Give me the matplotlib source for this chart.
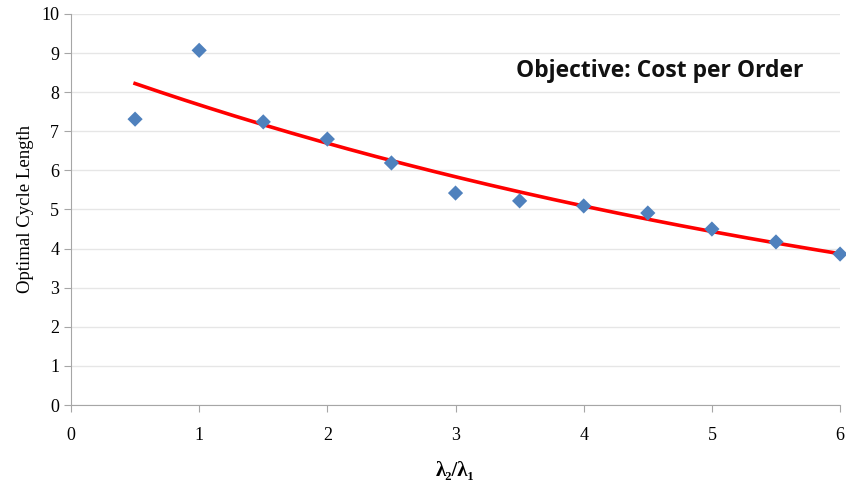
import numpy as np
import matplotlib

matplotlib.use("Agg")
import matplotlib.pyplot as plt  # noqa: E402

# ratio lambda2/lambda1 and optimal cycle length
ratio = [0.5, 1.0, 1.5, 2.0, 2.5, 3.0, 3.5, 4.0, 4.5, 5.0, 5.5, 6.0]
cycle_len = [7.31, 9.07, 7.24, 6.80, 6.19, 5.42, 5.22, 5.09, 4.91, 4.50, 4.17, 3.86]

x_ticks = [0, 1, 2, 3, 4, 5, 6]
y_ticks = list(range(0, 11))

SERIF = ["Liberation Serif", "DejaVu Serif"]


def main():
    fig = plt.figure(figsize=(8.46, 4.95), dpi=100)
    ax = fig.add_axes([0.0839, 0.1818, 0.9091, 0.79])

    x = np.array(ratio)
    y = np.array(cycle_len)
    # exponential trendline, like the spreadsheet one
    b, ln_a = np.polyfit(x, np.log(y), 1)
    xs = np.linspace(x.min(), x.max(), 200)
    ax.plot(xs, np.exp(ln_a) * np.exp(b * xs), color="#ff0000", lw=2.6, zorder=2)

    ax.scatter(x, y, marker="D", s=60, color="#4f81bd", edgecolors="none", zorder=3, clip_on=False)

    ax.set_xlim(0, 6)
    ax.set_ylim(0, 10)
    ax.set_xticks(x_ticks)
    ax.set_yticks(y_ticks)
    ax.grid(axis="y", color="#e6e6e6", lw=1)
    ax.set_axisbelow(True)
    for s in ("top", "right"):
        ax.spines[s].set_visible(False)
    for s in ("left", "bottom"):
        ax.spines[s].set_color("#a6a6a6")
    ax.tick_params(axis="both", direction="out", length=5, color="#a6a6a6", labelsize=13)
    ax.tick_params(axis="x", pad=11)
    for lab in ax.get_xticklabels() + ax.get_yticklabels():
        lab.set_family(SERIF)

    ax.set_ylabel("Optimal Cycle Length", family=SERIF, fontsize=13.5, labelpad=5)
    ax.set_xlabel("λ₂/λ₁", family=SERIF, fontsize=15, weight="bold", labelpad=12)

    ax.text(4.59, 8.54, "Objective: Cost per Order", ha="center", va="center",
            fontsize=16.5, weight="bold", family=["Open Sans", "DejaVu Sans"], color="#111111")

    fig.savefig("out.png", dpi=100)


if __name__ == "__main__":
    main()
